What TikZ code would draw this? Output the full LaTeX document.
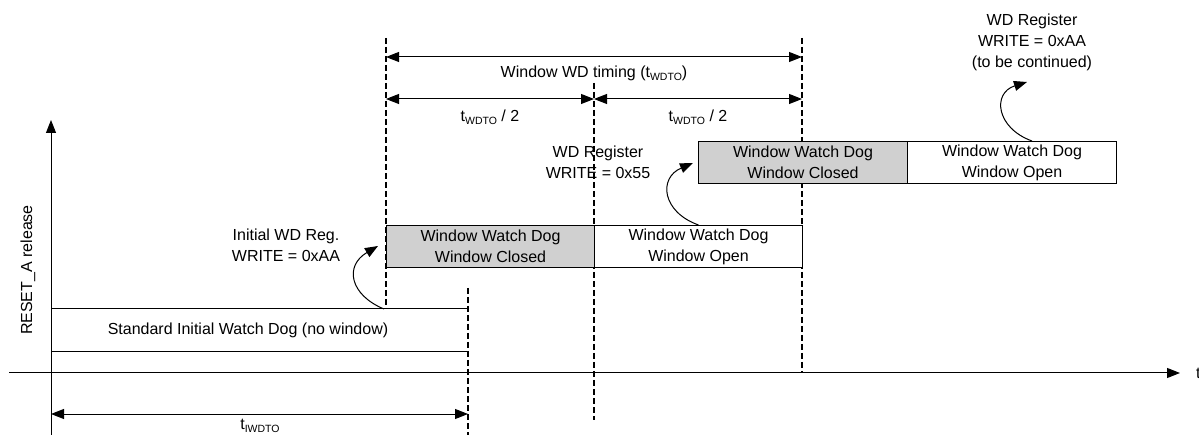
\documentclass[tikz,border=0pt]{standalone}
\usepackage{fontspec}
\setmainfont{Liberation Sans}
\usetikzlibrary{arrows.meta}
\definecolor{wdgray}{RGB}{208,208,208}
\newcommand\wdsub[1]{\raisebox{-0.35ex}{\fontsize{10.5}{10.5}\selectfont #1}}
\begin{document}
\begin{tikzpicture}[x=1pt,y=-1pt,
  font=\fontsize{16}{21}\selectfont,
  every node/.style={inner sep=0pt},
  ln/.style={line width=1pt},
  dsh/.style={line width=1.3pt,dash pattern=on 6pt off 3pt},
  tipped/.style={line width=1pt,-{Triangle[length=13pt,width=10pt]}},
  dim/.style={line width=1pt,{Triangle[length=13pt,width=10pt]}-{Triangle[length=13pt,width=10pt]}},
  wbox/.style={draw,line width=1pt,fill=white,minimum width=208pt,minimum height=42pt,align=center,anchor=north west},
  gbox/.style={wbox,fill=wdgray},
  lbl/.style={align=center}]
\useasboundingbox (0,0) rectangle (1199,435);

% axes
\coordinate (yb) at (51,435);
\coordinate (yt) at (51,120);
\coordinate (xl) at (9,373);
\coordinate (xr) at (1180,373);
\draw[tipped] (yb) -- (yt);
\draw[tipped] (xl) -- (xr);
\node[anchor=west] (tlab) at (1196,373) {t};
\node[rotate=90] (rlab) at (28,270) {RESET\_A release};

% dashed markers
\coordinate (d1t) at (386,38);  \coordinate (d1b) at (386,308);
\coordinate (d2t) at (594,83);  \coordinate (d2b) at (594,420);
\coordinate (d3t) at (802,38);  \coordinate (d3b) at (802,373);
\coordinate (d4t) at (468,288); \coordinate (d4b) at (468,435);
\draw[dsh] (d1t) -- (d1b);
\draw[dsh] (d2t) -- (d2b);
\draw[dsh] (d3t) -- (d3b);
\draw[dsh] (d4t) -- (d4b);

% standard initial watch dog
\node[anchor=north west,minimum width=417pt,minimum height=42pt] (std) at (51,309) {};
\draw[ln] (std.north west) -- (std.north east);
\draw[ln] (std.south west) -- (std.south east);
\node (stdtxt) at (248,330) {Standard Initial Watch Dog (no window)};

% window boxes
\node[gbox] (c1) at (386,225) {Window Watch Dog\\Window Closed};
\node[wbox] (o1) at (594,225) {Window Watch Dog\\Window Open};
\node[gbox,minimum width=209pt] (c2) at (698,141) {Window Watch Dog\\Window Closed};
\node[wbox,minimum width=209pt] (o2) at (907,141) {Window Watch Dog\\Window Open};

% dimension arrows
\coordinate (a1l) at (386,57); \coordinate (a1r) at (802,57);
\draw[dim] (a1l) -- (a1r);
\node (a1lab) at (594,73) {Window WD timing (t\wdsub{WDTO})};
\coordinate (a2l) at (386,99); \coordinate (a2m) at (594,99); \coordinate (a2r) at (802,99);
\draw[dim] (a2l) -- (a2m);
\draw[dim] (a2m) -- (a2r);
\node (a2lab) at (490,117) {t\wdsub{WDTO} / 2};
\node (a3lab) at (698,117) {t\wdsub{WDTO} / 2};
\coordinate (a4l) at (51,414); \coordinate (a4r) at (468,414);
\draw[dim] (a4l) -- (a4r);
\node[anchor=north] (a4lab) at (260,419) {t\wdsub{IWDTO}};

% labels and curved arrows
\node[lbl] (l1) at (286,245) {Initial WD Reg.\\WRITE = 0xAA};
\node[lbl] (l2) at (598,162) {WD Register\\WRITE = 0x55};
\node[lbl] (l3) at (1032,42) {WD Register\\WRITE = 0xAA\\(to be continued)};

\coordinate (s1) at (384,309); \coordinate (e1) at (378,246);
\draw[tipped] (s1) .. controls (350,295) and (344,266) .. (e1);
\coordinate (e2) at (693,163);
\draw[tipped] (o1.north) .. controls (662,212) and (658,178) .. (e2);
\coordinate (s3) at (1032,141); \coordinate (e3) at (1027,82);
\draw[tipped] (s3) .. controls (996,128) and (992,93) .. (e3);
\end{tikzpicture}
\end{document}
